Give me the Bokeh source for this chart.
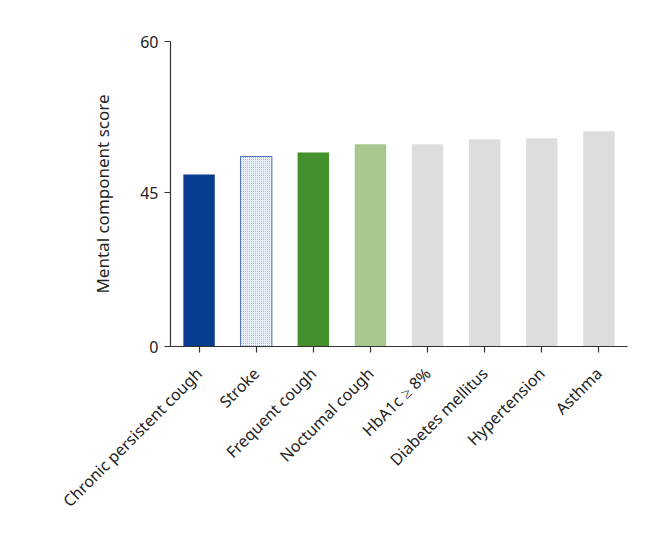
import math
from bokeh.plotting import figure
from bokeh.models import FactorRange, Range1d, FixedTicker
from bokeh.embed import file_html
from bokeh.resources import INLINE

categories = ["Chronic persistent cough", "Stroke", "Frequent cough", "Noctumal cough",
              "HbA1c \u2265 8%", "Diabetes mellitus", "Hypertension", "Asthma"]
values = [46.8, 48.6, 49.0, 49.8, 49.8, 50.3, 50.4, 51.1]
colors = ["#073c91", "#eaf0f8", "#44902c", "#a8c78e", "#dcdedd", "#dcdedd", "#dcdedd", "#dcdedd"]
y_ticks = [0, 45, 60]

# segmented (broken) y scale: 0..45 compressed, 45..60 expanded
BREAK = 45.0
LOW_SPAN = 15.25
def seg(v):
    if v <= BREAK:
        return v * LOW_SPAN / BREAK
    return LOW_SPAN + (v - BREAK)

tops = [seg(v) for v in values]

p = figure(x_range=FactorRange(*categories, range_padding=0),
           y_range=Range1d(seg(0), seg(60)),
           width=640, height=527, output_backend="svg", toolbar_location=None,
           min_border_left=170, min_border_right=13, min_border_top=41, min_border_bottom=181)

normal = [i for i in range(len(categories)) if i != 1]
p.vbar(x=[categories[i] for i in normal], top=[tops[i] for i in normal], width=0.55,
       fill_color=[colors[i] for i in normal], line_color=None)
p.vbar(x=[categories[1]], top=[tops[1]], width=0.55, fill_color=colors[1],
       line_color="#4f74b5", line_width=1, hatch_pattern="dot",
       hatch_color="#93acd8", hatch_scale=2, hatch_weight=1)

p.xgrid.visible = False
p.ygrid.visible = False
p.outline_line_color = None

p.yaxis.ticker = FixedTicker(ticks=[seg(t) for t in y_ticks])
p.yaxis.major_label_overrides = {seg(t): str(t) for t in y_ticks}
p.yaxis.axis_label = "Mental component score"
p.yaxis.axis_label_text_font_style = "normal"
p.yaxis.axis_label_standoff = 23

for ax in (p.xaxis[0], p.yaxis[0]):
    ax.axis_line_color = "#333333"
    ax.axis_line_width = 1.2
    ax.major_tick_line_color = "#333333"
    ax.major_tick_line_width = 1.2
    ax.major_tick_in = 0
    ax.major_tick_out = 6
    ax.minor_tick_line_color = None
    ax.major_label_text_font = "Noto Sans"
    ax.major_label_text_font_size = "16px"
    ax.major_label_text_color = "#222222"
    ax.axis_label_text_font = "Noto Sans"
    ax.axis_label_text_font_size = "17px"
    ax.axis_label_text_color = "#222222"

p.xaxis.major_label_orientation = math.pi / 4
p.xaxis.major_label_standoff = 18
p.yaxis.major_label_standoff = 6

open("out.html", "w").write(file_html(p, INLINE))
